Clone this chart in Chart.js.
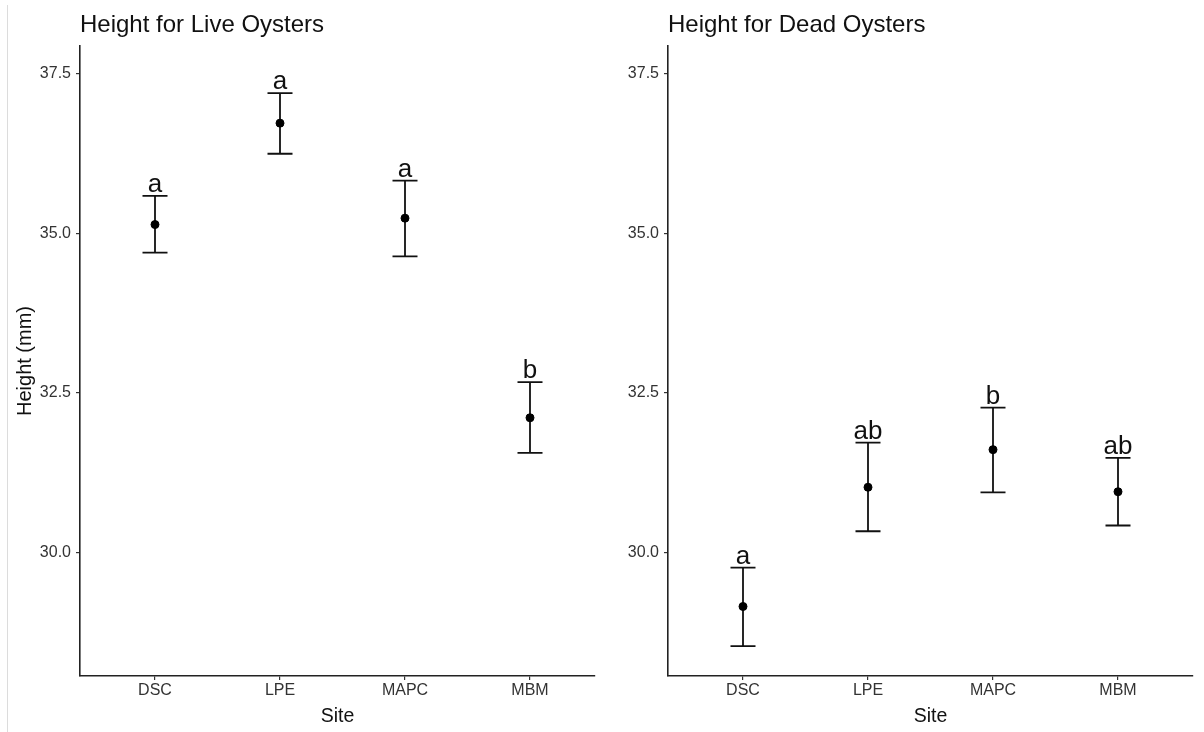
<!DOCTYPE html>
<html>
<head>
<meta charset="utf-8">
<script src="https://cdn.jsdelivr.net/npm/chart.js@4/dist/chart.umd.min.js"></script>
<style>
  body { margin: 0; background: #fff; width: 1204px; height: 732px; overflow: hidden; position: relative; }
  .edge { position: absolute; left: 7px; top: 5px; width: 0; height: 727px; border-left: 1px solid #dcdcdc; }
  #left { position: absolute; left: 0; top: 0; }
  #right { position: absolute; left: 600px; top: 0; }
</style>
</head>
<body>
<div class="edge"></div>
<canvas id="left" width="600" height="732"></canvas>
<canvas id="right" width="604" height="732"></canvas>
<script>
// sites on the x axis
const sites = ['DSC', 'LPE', 'MAPC', 'MBM'];
const y_ticks = [30, 32.5, 35, 37.5];

// live oysters: mean and error bar ends
const live_mean = [35.14, 36.73, 35.24, 32.11];
const live_upper = [35.59, 37.20, 35.83, 32.67];
const live_lower = [34.70, 36.25, 34.64, 31.56];
const live_letters = ['a', 'a', 'a', 'b'];

// dead oysters
const dead_mean = [29.15, 31.02, 31.61, 30.95];
const dead_upper = [29.76, 31.72, 32.27, 31.48];
const dead_lower = [28.53, 30.33, 30.94, 30.42];
const dead_letters = ['a', 'ab', 'b', 'ab'];

Chart.defaults.font.family = "'Liberation Sans', Arial, sans-serif";
Chart.defaults.color = '#333';

// error bars + letters drawn through the chart scales
const errorBars = {
  id: 'errorBars',
  beforeDatasetsDraw(chart, args, opts) {
    const ctx = chart.ctx;
    const xs = chart.scales.x, ys = chart.scales.y;
    ctx.save();
    ctx.strokeStyle = '#111';
    ctx.lineWidth = 1.8;
    opts.upper.forEach((u, i) => {
      const x = xs.getPixelForValue(i);
      const half = xs.getPixelForValue(i + 0.1) - x;
      const yu = ys.getPixelForValue(u);
      const yl = ys.getPixelForValue(opts.lower[i]);
      ctx.beginPath();
      ctx.moveTo(x, yu); ctx.lineTo(x, yl);
      ctx.moveTo(x - half, yu); ctx.lineTo(x + half, yu);
      ctx.moveTo(x - half, yl); ctx.lineTo(x + half, yl);
      ctx.stroke();
    });
    ctx.restore();
  },
  afterDatasetsDraw(chart, args, opts) {
    const ctx = chart.ctx;
    const xs = chart.scales.x, ys = chart.scales.y;
    ctx.save();
    ctx.fillStyle = '#111';
    ctx.font = "26px 'Liberation Sans', Arial, sans-serif";
    ctx.textAlign = 'center';
    ctx.textBaseline = 'alphabetic';
    opts.letters.forEach((l, i) => {
      ctx.fillText(l, xs.getPixelForValue(i), ys.getPixelForValue(opts.upper[i]) - 4);
    });
    // panel title
    ctx.textAlign = 'left';
    ctx.font = "24px 'Liberation Sans', Arial, sans-serif";
    ctx.fillText(opts.title, chart.chartArea.left, 32);
    ctx.restore();
  }
};

function makeChart(id, mean, upper, lower, letters, title, showYTitle, yWidth, xMax, padRight) {
  return new Chart(document.getElementById(id), {
    type: 'scatter',
    data: {
      datasets: [{
        data: mean.map((m, i) => ({x: i, y: m})),
        backgroundColor: '#000',
        borderColor: '#000',
        pointRadius: 4
      }]
    },
    options: {
      responsive: false,
      animation: false,
      layout: { padding: { top: 46, right: padRight, bottom: 0, left: 0 } },
      plugins: {
        legend: { display: false },
        tooltip: { enabled: false },
        errorBars: { upper: upper, lower: lower, letters: letters, title: title }
      },
      scales: {
        x: {
          type: 'linear',
          min: -0.6,
          max: xMax,
          afterBuildTicks: s => { s.ticks = sites.map((v, i) => ({value: i})); },
          afterFit: s => { s.height = 56; },
          ticks: { callback: v => sites[v], font: { size: 16 }, color: '#333', padding: 1, maxRotation: 0 },
          grid: { drawOnChartArea: false, tickLength: 4, color: '#333', lineWidth: 1.2 },
          border: { color: '#222', width: 1.6 },
          title: { display: true, text: 'Site', font: { size: 19.5 }, color: '#111', padding: { top: 0, bottom: 4 } }
        },
        y: {
          min: 28.06,
          max: 37.94,
          afterBuildTicks: s => { s.ticks = y_ticks.map(v => ({value: v})); },
          afterFit: s => { s.width = yWidth; },
          ticks: { callback: v => v.toFixed(1), font: { size: 16 }, color: '#333', padding: 5 },
          grid: { drawOnChartArea: false, tickLength: 4, color: '#333', lineWidth: 1.2 },
          border: { color: '#222', width: 1.6 },
          title: { display: showYTitle, text: 'Height (mm)', font: { size: 20 }, color: '#111', padding: { top: 13, bottom: 0 } }
        }
      }
    },
    plugins: [errorBars]
  });
}

makeChart('left', live_mean, live_upper, live_lower, live_letters, 'Height for Live Oysters', true, 80, 3.52, 5);
makeChart('right', dead_mean, dead_upper, dead_lower, dead_letters, 'Height for Dead Oysters', false, 68, 3.6, 11);
</script>
</body>
</html>
